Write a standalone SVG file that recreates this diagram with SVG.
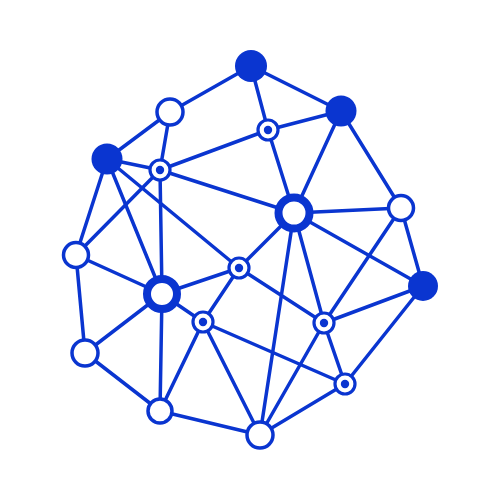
<svg xmlns="http://www.w3.org/2000/svg" width="500" height="500" viewBox="0 0 500 500">
<style>
.e{stroke:#0a35d0;stroke-width:3.5;fill:none;stroke-linecap:round}
.f{fill:#0a35d0}
.o{fill:#fff;stroke:#0a35d0;stroke-width:3.5}
.h{fill:#fff;stroke:#0a35d0;stroke-width:8}
.d{fill:#fff;stroke:#0a35d0;stroke-width:3.2}
</style>
<rect width="500" height="500" fill="#fff"/>
<g id="connectors" class="e">
<line x1="251" y1="66" x2="170" y2="112"/>
<line x1="251" y1="66" x2="341" y2="111"/>
<line x1="251" y1="66" x2="268" y2="130"/>
<line x1="341" y1="111" x2="268" y2="130"/>
<line x1="341" y1="111" x2="294" y2="213"/>
<line x1="341" y1="111" x2="401" y2="208"/>
<line x1="170" y1="112" x2="107" y2="159"/>
<line x1="170" y1="112" x2="160" y2="170"/>
<line x1="107" y1="159" x2="160" y2="170"/>
<line x1="107" y1="159" x2="76" y2="255"/>
<line x1="107" y1="159" x2="162" y2="294"/>
<line x1="107" y1="159" x2="239" y2="268"/>
<line x1="160" y1="170" x2="268" y2="130"/>
<line x1="160" y1="170" x2="294" y2="213"/>
<line x1="160" y1="170" x2="76" y2="255"/>
<line x1="160" y1="170" x2="162" y2="294"/>
<line x1="268" y1="130" x2="294" y2="213"/>
<line x1="294" y1="213" x2="401" y2="208"/>
<line x1="294" y1="213" x2="423" y2="286"/>
<line x1="294" y1="213" x2="239" y2="268"/>
<line x1="294" y1="213" x2="260" y2="435"/>
<line x1="294" y1="213" x2="324" y2="323"/>
<line x1="401" y1="208" x2="324" y2="323"/>
<line x1="401" y1="208" x2="423" y2="286"/>
<line x1="423" y1="286" x2="324" y2="323"/>
<line x1="423" y1="286" x2="345" y2="384"/>
<line x1="239" y1="268" x2="324" y2="323"/>
<line x1="239" y1="268" x2="203" y2="322"/>
<line x1="239" y1="268" x2="162" y2="294"/>
<line x1="162" y1="294" x2="203" y2="322"/>
<line x1="162" y1="294" x2="76" y2="255"/>
<line x1="162" y1="294" x2="85" y2="353"/>
<line x1="162" y1="294" x2="160" y2="411"/>
<line x1="203" y1="322" x2="345" y2="384"/>
<line x1="203" y1="322" x2="160" y2="411"/>
<line x1="203" y1="322" x2="260" y2="435"/>
<line x1="324" y1="323" x2="260" y2="435"/>
<line x1="324" y1="323" x2="345" y2="384"/>
<line x1="345" y1="384" x2="260" y2="435"/>
<line x1="76" y1="255" x2="85" y2="353"/>
<line x1="85" y1="353" x2="160" y2="411"/>
<line x1="160" y1="411" x2="260" y2="435"/>
</g>
<g id="nA"><circle class="f" cx="251" cy="66" r="16"/></g>
<g id="nB"><circle class="f" cx="341" cy="111" r="15.5"/></g>
<g id="nC"><circle class="f" cx="107" cy="159" r="15.5"/></g>
<g id="nD"><circle class="f" cx="423" cy="286" r="15"/></g>
<g id="nE"><circle class="o" cx="170" cy="112" r="13"/></g>
<g id="nF"><circle class="o" cx="401" cy="208" r="12.5"/></g>
<g id="nG"><circle class="o" cx="76" cy="255" r="12.5"/></g>
<g id="nH"><circle class="o" cx="85" cy="353" r="13"/></g>
<g id="nI"><circle class="o" cx="160" cy="411" r="12"/></g>
<g id="nJ"><circle class="o" cx="260" cy="435" r="13"/></g>
<g id="nK"><circle class="h" cx="294" cy="213" r="15.5"/></g>
<g id="nL"><circle class="h" cx="162" cy="294" r="15"/></g>
<g id="nM"><circle class="d" cx="268" cy="130" r="10"/><circle class="f" cx="268" cy="130" r="4.2"/></g>
<g id="nN"><circle class="d" cx="160" cy="170" r="10"/><circle class="f" cx="160" cy="170" r="4.2"/></g>
<g id="nO"><circle class="d" cx="239" cy="268" r="10"/><circle class="f" cx="239" cy="268" r="4.2"/></g>
<g id="nP"><circle class="d" cx="203" cy="322" r="10"/><circle class="f" cx="203" cy="322" r="4.2"/></g>
<g id="nQ"><circle class="d" cx="324" cy="323" r="10"/><circle class="f" cx="324" cy="323" r="4.2"/></g>
<g id="nR"><circle class="d" cx="345" cy="384" r="10"/><circle class="f" cx="345" cy="384" r="4.2"/></g>
</svg>
